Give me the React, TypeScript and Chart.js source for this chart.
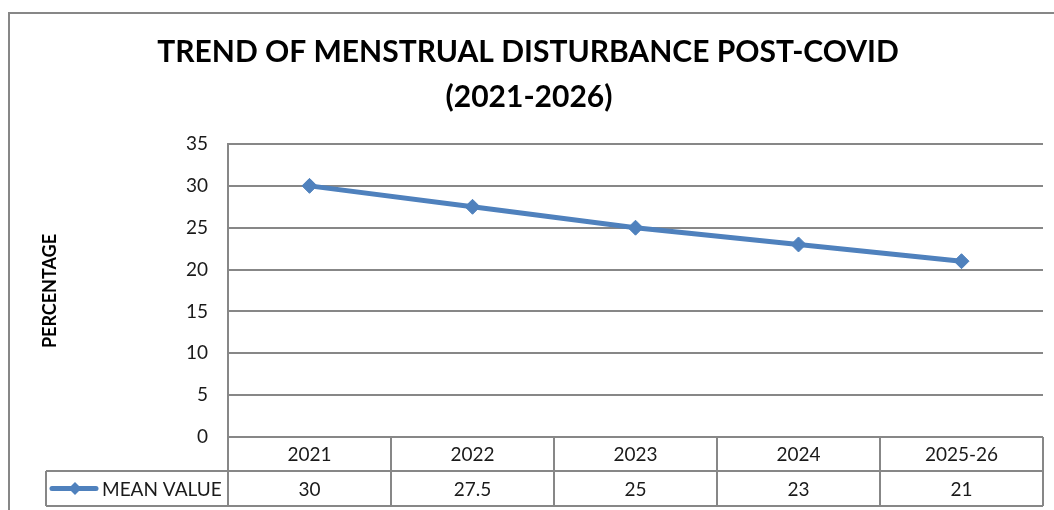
import React, { useEffect, useRef } from "react";
import { Chart, registerables } from "chart.js";

Chart.register(...registerables);

const titleLines = ["TREND OF MENSTRUAL DISTURBANCE POST-COVID", "(2021-2026)"];
const yAxisTitle = "PERCENTAGE";
const categories = ["2021", "2022", "2023", "2024", "2025-26"];
const seriesName = "MEAN VALUE";
const meanValues = [30, 27.5, 25, 23, 21];
const valueLabels = ["30", "27.5", "25", "23", "21"];
const yMin = 0;
const yMax = 35;
const yStep = 5;

const W = 1054;
const H = 510;
const LINE_GRAY = "#878787";
const TEXT = "#1a1a1a";
const BLUE = "#4F81BD";
const FONT = "Lato, 'Open Sans', sans-serif";

function drawDiamond(ctx: CanvasRenderingContext2D, x: number, y: number, r: number) {
  ctx.beginPath();
  ctx.moveTo(x - r, y);
  ctx.lineTo(x, y - r);
  ctx.lineTo(x + r, y);
  ctx.lineTo(x, y + r);
  ctx.closePath();
  ctx.fill();
}

const decorPlugin = {
  id: "excelDecor",
  afterDraw(chart: any) {
    const ctx: CanvasRenderingContext2D = chart.ctx;
    const area = chart.chartArea;
    const xs = chart.scales.x;
    ctx.save();

    // outer chart border (top and left visible)
    ctx.strokeStyle = LINE_GRAY;
    ctx.lineWidth = 2;
    ctx.beginPath();
    ctx.moveTo(9, H);
    ctx.lineTo(9, 13);
    ctx.lineTo(W, 13);
    ctx.stroke();

    // title
    ctx.fillStyle = "#000";
    ctx.textAlign = "center";
    ctx.textBaseline = "middle";
    ctx.font = `bold 30px ${FONT}`;
    ctx.fillText(titleLines[0], 528, 52);
    ctx.fillText(titleLines[1], 529, 97);

    // y axis title
    ctx.save();
    ctx.translate(50, 291);
    ctx.rotate(-Math.PI / 2);
    ctx.font = `bold 18px ${FONT}`;
    ctx.fillText(yAxisTitle, 0, 0);
    ctx.restore();

    // data table
    const top = Math.round(area.bottom);
    const mid = top + 34;
    const bot = top + 69;
    const left = Math.round(area.left);
    const right = Math.round(area.right);
    const legendLeft = 46;
    const n = categories.length;
    const colW = (right - left) / n;

    ctx.strokeStyle = LINE_GRAY;
    ctx.lineWidth = 2;
    ctx.beginPath();
    ctx.moveTo(left, top);
    ctx.lineTo(right, top);
    ctx.moveTo(legendLeft, mid);
    ctx.lineTo(right, mid);
    ctx.moveTo(legendLeft, bot);
    ctx.lineTo(right, bot);
    for (let i = 0; i <= n; i++) {
      const ex = Math.round(left + i * colW);
      ctx.moveTo(ex, top);
      ctx.lineTo(ex, bot);
    }
    ctx.moveTo(legendLeft, mid);
    ctx.lineTo(legendLeft, bot);
    ctx.stroke();

    ctx.fillStyle = TEXT;
    ctx.font = `19px ${FONT}`;
    ctx.textAlign = "center";
    ctx.textBaseline = "middle";
    for (let i = 0; i < n; i++) {
      const cx = xs.getPixelForValue(i);
      ctx.fillText(categories[i], cx, (top + mid) / 2 + 1);
      ctx.fillText(valueLabels[i], cx, (mid + bot) / 2 + 1);
    }

    // legend key
    const ly = (mid + bot) / 2;
    ctx.strokeStyle = BLUE;
    ctx.lineWidth = 5;
    ctx.lineCap = "round";
    ctx.beginPath();
    ctx.moveTo(52, ly);
    ctx.lineTo(96, ly);
    ctx.stroke();
    ctx.fillStyle = BLUE;
    drawDiamond(ctx, 75, ly, 6.5);
    ctx.fillStyle = TEXT;
    ctx.textAlign = "left";
    ctx.fillText(seriesName, 102, ly + 1);

    ctx.restore();
  },
};

export default function App() {
  const ref = useRef<HTMLCanvasElement | null>(null);

  useEffect(() => {
    if (!ref.current) return;
    const chart = new Chart(ref.current, {
      type: "line",
      data: {
        labels: categories,
        datasets: [
          {
            label: seriesName,
            data: meanValues,
            borderColor: BLUE,
            backgroundColor: BLUE,
            borderWidth: 5,
            tension: 0,
            pointStyle: "rectRot",
            pointRadius: 7.5,
            pointHoverRadius: 7.5,
            pointBorderWidth: 1,
            pointBackgroundColor: BLUE,
            pointBorderColor: BLUE,
          },
        ],
      },
      options: {
        responsive: false,
        animation: false,
        layout: { padding: { top: 144, bottom: 73, right: 11, left: 0 } },
        plugins: {
          legend: { display: false },
          tooltip: { enabled: false },
          title: { display: false },
        },
        scales: {
          x: {
            type: "category",
            offset: true,
            grid: { display: false },
            border: { display: false },
            ticks: { display: false },
            afterFit: (s: any) => {
              s.height = 0;
            },
          },
          y: {
            min: yMin,
            max: yMax,
            ticks: {
              stepSize: yStep,
              color: TEXT,
              font: { family: FONT, size: 19 },
              padding: 20,
            },
            grid: { color: LINE_GRAY, lineWidth: 2, drawTicks: false },
            border: { display: true, color: LINE_GRAY, width: 2 },
            afterFit: (s: any) => {
              s.width = 228;
            },
          },
        },
      },
      plugins: [decorPlugin],
    });
    return () => chart.destroy();
  }, []);

  return (
    <div style={{ position: "absolute", left: 0, top: 0, width: W, height: H, background: "#fff" }}>
      <canvas ref={ref} width={W} height={H} style={{ display: "block" }} />
    </div>
  );
}
